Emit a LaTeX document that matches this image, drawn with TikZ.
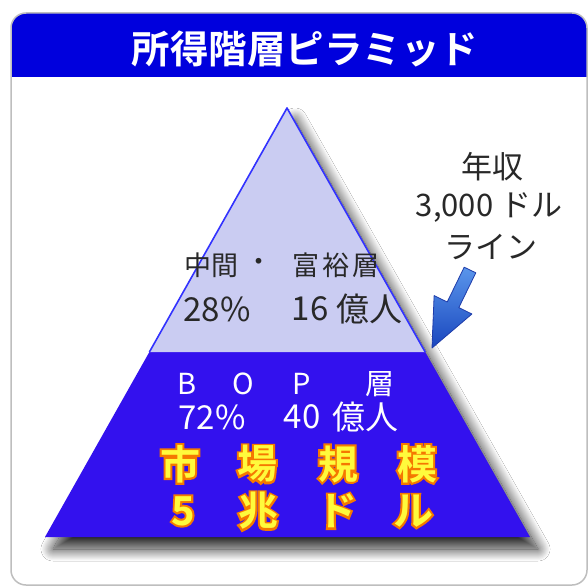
\documentclass[tikz,border=0pt]{standalone}
\usepackage{fontspec}
\setmainfont{Noto Sans CJK JP}
\newfontfamily\cjkb{Noto Sans CJK JP Bold}
\newfontfamily\cjkbo{Noto Sans CJK JP Bold}[FakeBold=10]
\usetikzlibrary{shadows.blur}
\definecolor{hdrblue}{RGB}{0,0,221}
\definecolor{bopblue}{RGB}{51,17,238}
\definecolor{lav}{RGB}{202,204,242}
\definecolor{edgeblue}{RGB}{50,50,255}
\definecolor{textgray}{RGB}{40,40,40}
\definecolor{boxgray}{RGB}{190,190,190}
\definecolor{ylw}{RGB}{255,250,60}
\definecolor{org}{RGB}{245,120,0}
\newcommand\goldchar[1]{\rlap{\cjkbo\textcolor{org}{#1}}\textcolor{ylw}{#1}}
\begin{document}
\begin{tikzpicture}[x=1pt,y=-1pt,
  lbl/.style={inner sep=0pt, anchor=center},
  titletext/.style={lbl, text=white, font=\cjkb\fontsize{38.5}{38.5}\selectfont},
  midtext/.style={lbl, text=textgray, font=\fontsize{27}{27}\selectfont},
  midbig/.style={lbl, text=textgray, font=\fontsize{33}{33}\selectfont},
  boptext/.style={lbl, text=white, font=\fontsize{29}{29}\selectfont},
  bopbig/.style={lbl, text=white, font=\fontsize{33}{33}\selectfont},
  goldtext/.style={lbl, font=\cjkb\fontsize{40}{40}\selectfont},
  sidetext/.style={lbl, text=textgray, font=\fontsize{31}{31}\selectfont}]
\path[use as bounding box] (0,0) rectangle (588,588);
\clip (0,0) rectangle (588,588);
% frame
\fill[white] (0,0) rectangle (588,588);
\begin{scope}
  \clip (0,0) rectangle (588,77);
  \fill[hdrblue, rounded corners=15pt] (11,13) rectangle (587,120);
\end{scope}
\draw[boxgray, line width=1.5pt, rounded corners=15pt] (11,13) rectangle (587,585);
\node[titletext] (title) at (305,49) {所得階層ピラミッド};
% pyramid
\coordinate (A) at (287,108);
\coordinate (L) at (45,537);
\coordinate (R) at (530,537);
\coordinate (DL) at (149.4,352);
\coordinate (DR) at (425.2,352);
\fill[bopblue, blur shadow={shadow xshift=8pt, shadow yshift=-12pt, shadow blur radius=12pt, shadow blur steps=24, shadow opacity=85}]
  (A) -- (R) -- (L) -- cycle;
\fill[lav] (A) -- (DR) -- (DL) -- cycle;
\draw[edgeblue, line width=1.6pt, line join=round] (DL) -- (A) -- (DR);
% upper labels
\node[midtext] (m1) at (211,265) {中間};
\node[midtext] (m2) at (259,265) {・};
\node[midtext] (m3) at (336,265) {富\hspace{3pt}裕\hspace{3pt}層};
\node[midbig] (n1) at (217,309) {28\%};
\node[midbig] (n2) at (310,309) {16};
\node[midbig] (n3) at (369,309) {億人};
% BOP labels
\node[boptext] (b1) at (187,384) {B};
\node[boptext] (b2) at (243,384) {O};
\node[boptext] (b3) at (302,384) {P};
\node[boptext] (b4) at (380,384) {層};
\node[bopbig] (p1) at (212,417) {72\%};
\node[bopbig] (p2) at (302,417) {40};
\node[bopbig] (p3) at (365,417) {億人};
% market size
\foreach \c/\x [count=\i] in {市/180,場/257,規/338,模/417}
  \node[goldtext] (g\i) at (\x,464) {\goldchar{\c}};
\foreach \c/\x [count=\i] in {5/183,兆/258,ド/337,ル/413}
  \node[goldtext] (h\i) at (\x,511) {\goldchar{\c}};
% side label
\node[sidetext] (s1) at (492,167) {年収};
\node[sidetext] (s2) at (489,208) {3,000 ドル};
\node[sidetext] (s3) at (491,247) {ライン};
% arrow
\coordinate (t0) at (432,348);
\coordinate (t1) at (471.9,314.0);
\coordinate (t2) at (458.8,307.6);
\coordinate (t3) at (475.8,272.8);
\coordinate (t4) at (464.2,267.2);
\coordinate (t5) at (447.2,302.0);
\coordinate (t6) at (434.1,295.6);
\shade[top color={rgb,255:red,90;green,150;blue,235}, bottom color={rgb,255:red,25;green,70;blue,190},
  draw={rgb,255:red,30;green,60;blue,170}, line width=0.8pt, line join=round]
  (t0) -- (t1) -- (t2) -- (t3) -- (t4) -- (t5) -- (t6) -- cycle;
\end{tikzpicture}
\end{document}
